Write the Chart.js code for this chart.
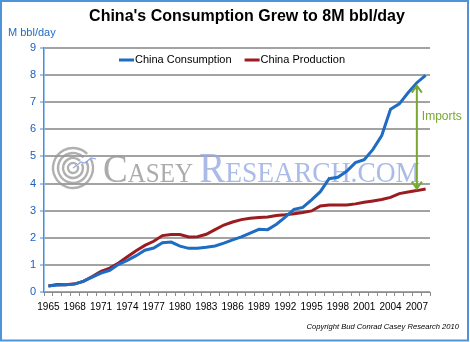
<!DOCTYPE html>
<html>
<head>
<meta charset="utf-8">
<script src="https://cdn.jsdelivr.net/npm/chart.js@4.4.0/dist/chart.umd.min.js"></script>
<style>
  html, body { margin: 0; padding: 0; background: #fff; }
  #wrap { width: 470px; height: 342px; position: relative; }
</style>
</head>
<body>
<div id="wrap"><canvas id="oilChart" width="470" height="342"></canvas></div>
<script>
// China oil, million barrels per day
const years = [1965, 1966, 1967, 1968, 1969, 1970, 1971, 1972, 1973, 1974,
               1975, 1976, 1977, 1978, 1979, 1980, 1981, 1982, 1983, 1984,
               1985, 1986, 1987, 1988, 1989, 1990, 1991, 1992, 1993, 1994,
               1995, 1996, 1997, 1998, 1999, 2000, 2001, 2002, 2003, 2004,
               2005, 2006, 2007, 2008];
const consumption = [0.22, 0.26, 0.27, 0.29, 0.40, 0.55, 0.70, 0.80, 1.02, 1.17,
                     1.34, 1.54, 1.62, 1.82, 1.84, 1.69, 1.61, 1.61, 1.65, 1.70,
                     1.80, 1.92, 2.03, 2.17, 2.31, 2.30, 2.50, 2.76, 3.05, 3.12,
                     3.40, 3.70, 4.18, 4.23, 4.45, 4.77, 4.88, 5.26, 5.77, 6.74,
                     6.94, 7.35, 7.72, 7.99];
const production = [0.22, 0.28, 0.27, 0.30, 0.39, 0.57, 0.76, 0.88, 1.07, 1.30,
                    1.52, 1.72, 1.87, 2.08, 2.12, 2.12, 2.03, 2.04, 2.13, 2.30,
                    2.47, 2.58, 2.67, 2.72, 2.75, 2.77, 2.82, 2.85, 2.89, 2.93,
                    2.99, 3.17, 3.21, 3.21, 3.21, 3.25, 3.31, 3.36, 3.41, 3.49,
                    3.63, 3.69, 3.74, 3.80];
const yMin = 0;
const yMax = 9;
const yStep = 1;
const labelEvery = 3;      // show 1965, 1968, ... on the x axis
const importsYear = 2007;  // where the imports gap arrow sits

const BLUE = '#1f6cc4';
const RED = '#9b1c20';
const GREEN = '#78a832';
const AXIS_BLUE = '#3f8ee0';
const SANS = '"Liberation Sans", Arial, sans-serif';

// Extra drawing: title, unit label, legend, watermark, imports arrow, copyright, frame
const decorations = {
    id: 'decorations',
    beforeDatasetsDraw(chart) {
        const ctx = chart.ctx;
        ctx.save();

        // spiral logo
        const cx = 73, cy = 168;
        ctx.strokeStyle = 'rgba(150,150,150,0.75)';
        ctx.lineWidth = 2.4;
        [5, 10, 15, 20].forEach(function(r) {
            ctx.beginPath();
            ctx.arc(cx, cy, r, -0.15 * Math.PI, 1.75 * Math.PI);
            ctx.stroke();
        });
        ctx.strokeStyle = 'rgba(120,150,220,0.8)';
        ctx.lineWidth = 1.2;
        ctx.beginPath();
        ctx.moveTo(cx, cy);
        ctx.lineTo(cx + 8, cy - 6);
        ctx.lineTo(cx + 12, cy - 5);
        ctx.lineTo(cx + 18, cy - 10);
        ctx.lineTo(cx + 23, cy - 9);
        ctx.stroke();

        // CASEY RESEARCH.COM wordmark, slightly tall
        ctx.translate(103, 182);
        ctx.scale(1, 1.1);
        let x = 0;
        const parts = [
            ['C', 37, 'rgba(150,150,150,0.8)'],
            ['ASEY', 25, 'rgba(150,150,150,0.8)'],
            [' ', 25, 'rgba(150,150,150,0.8)'],
            ['R', 39, 'rgba(150,170,225,0.8)'],
            ['ESEARCH.COM', 27.5, 'rgba(150,170,225,0.8)']
        ];
        ctx.textBaseline = 'alphabetic';
        ctx.textAlign = 'left';
        parts.forEach(function(p) {
            ctx.font = p[1] + 'px "Liberation Serif", serif';
            ctx.fillStyle = p[2];
            ctx.fillText(p[0], x, 0);
            x += ctx.measureText(p[0]).width;
        });
        ctx.restore();
    },
    afterDraw(chart) {
        const ctx = chart.ctx;
        const xs = chart.scales.x;
        const ys = chart.scales.y;
        ctx.save();

        // title
        ctx.fillStyle = '#000';
        ctx.font = 'bold 16px ' + SANS;
        ctx.textAlign = 'center';
        ctx.textBaseline = 'alphabetic';
        ctx.fillText("China's Consumption Grew to 8M bbl/day", 247, 21);

        // unit label
        ctx.fillStyle = BLUE;
        ctx.font = '11px ' + SANS;
        ctx.textAlign = 'left';
        ctx.fillText('M bbl/day', 8, 36);

        // legend, one row inside the plot
        ctx.font = '11px ' + SANS;
        ctx.textBaseline = 'middle';
        let lx = 119;
        const ly = 60;
        chart.data.datasets.forEach(function(ds) {
            ctx.fillStyle = ds.borderColor;
            ctx.fillRect(lx, ly - 1.5, 15, 3);
            ctx.fillStyle = '#000';
            ctx.fillText(ds.label, lx + 16, ly);
            lx += 16 + ctx.measureText(ds.label).width + 13;
        });

        // imports arrow between the two series
        const i = years.indexOf(importsYear);
        const ax = xs.getPixelForValue(i);
        const top = ys.getPixelForValue(consumption[i]) + 3;
        const bot = ys.getPixelForValue(production[i]) - 2;
        ctx.strokeStyle = GREEN;
        ctx.lineWidth = 2;
        ctx.beginPath();
        ctx.moveTo(ax, top);
        ctx.lineTo(ax, bot);
        ctx.moveTo(ax - 5, top + 7);
        ctx.lineTo(ax, top);
        ctx.lineTo(ax + 5, top + 7);
        ctx.moveTo(ax - 5, bot - 7);
        ctx.lineTo(ax, bot);
        ctx.lineTo(ax + 5, bot - 7);
        ctx.stroke();

        ctx.fillStyle = GREEN;
        ctx.font = '12px ' + SANS;
        ctx.textBaseline = 'middle';
        ctx.fillText('Imports', ax + 5, 117);

        // copyright
        ctx.fillStyle = '#000';
        ctx.font = 'italic 7.6px ' + SANS;
        ctx.textAlign = 'right';
        ctx.textBaseline = 'alphabetic';
        ctx.fillText('Copyright Bud Conrad Casey Research 2010', 459, 329);

        // frame
        ctx.strokeStyle = '#4f93d8';
        ctx.lineWidth = 2;
        ctx.strokeRect(1, 1, 467, 339.5);
        ctx.restore();
    }
};

const ctx = document.getElementById('oilChart').getContext('2d');
const oilChart = new Chart(ctx, {
    type: 'line',
    data: {
        labels: years,
        datasets: [
            {
                label: 'China Consumption',
                data: consumption,
                borderColor: BLUE,
                backgroundColor: BLUE,
                borderWidth: 3,
                pointRadius: 0,
                tension: 0,
                fill: false
            },
            {
                label: 'China Production',
                data: production,
                borderColor: RED,
                backgroundColor: RED,
                borderWidth: 3,
                pointRadius: 0,
                tension: 0,
                fill: false
            }
        ]
    },
    options: {
        responsive: false,
        animation: false,
        devicePixelRatio: 1,
        layout: {
            padding: { top: 48, right: 40, bottom: 0, left: 0 }
        },
        plugins: {
            title: { display: false },
            tooltip: { enabled: false },
            legend: { display: false }
        },
        scales: {
            x: {
                offset: true,
                afterFit: function(scale) { scale.height = 50; },
                grid: {
                    drawOnChartArea: false,
                    offset: true,
                    color: '#8c8c8c',
                    tickLength: 4
                },
                border: { color: '#8c8c8c', width: 1 },
                ticks: {
                    autoSkip: false,
                    maxRotation: 0,
                    padding: 5,
                    color: '#000',
                    font: { family: SANS, size: 10 },
                    callback: function(value, index) {
                        return index % labelEvery === 0 ? String(years[index]) : '';
                    }
                }
            },
            y: {
                min: yMin,
                max: yMax,
                afterFit: function(scale) { scale.width = 44; },
                grid: {
                    color: '#a3a3a3',
                    lineWidth: 2,
                    tickColor: AXIS_BLUE,
                    tickWidth: 1,
                    tickLength: 4
                },
                border: { color: AXIS_BLUE, width: 1.5 },
                ticks: {
                    stepSize: yStep,
                    padding: 4,
                    color: '#1f5fbf',
                    font: { family: SANS, size: 11 }
                }
            }
        }
    },
    plugins: [decorations]
});
</script>
</body>
</html>
